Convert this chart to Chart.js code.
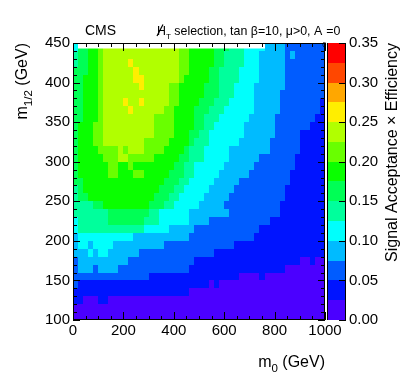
<!DOCTYPE html>
<html>
<head>
<meta charset="utf-8">
<script src="https://cdn.jsdelivr.net/npm/chart.js@4.4.1/dist/chart.umd.min.js"></script>
<style>
    html, body { margin: 0; padding: 0; background: #fff; }
</style>
</head>
<body>
<canvas id="effMap" width="407" height="391"></canvas>
<script>
// scan bin edges (GeV)
const m0Edges = [0, 20, 40, 60, 80, 100, 120, 140, 160, 180, 200, 220, 240, 260, 280, 300, 320, 340, 360, 380,
    400, 420, 440, 460, 480, 500, 520, 540, 560, 580, 600, 620, 640, 660, 680, 700, 720, 740, 760, 780,
    800, 820, 840, 860, 880, 900, 920, 940, 960, 980, 1000];
const m12Edges = [100, 110, 120, 130, 140, 150, 160, 170, 180, 190, 200, 210, 220, 230, 240, 250, 260, 270,
    280, 290, 300, 310, 320, 330, 340, 350, 360, 370, 380, 390, 400, 410, 420, 430, 440, 450];

// acceptance x efficiency, as contour bin number (width 0.025, 'a' = 10)
// one string per m1/2 row, from 440-450 GeV (top) down to 100-110 GeV; one char per m0 bin
const effBin = 0.025;
const effRows = [
    "4 66 77 8 999999999999999 88 77777 666 555 4444 3333 22222222",
    "5 66 77 8 999999999999999 88 77777 66 5555 444 33333 2 3 222222",
    "5 66 77 8 99999a999999999 88 77777 66 5555 444 33333 22222222",
    "6 66 77 8 999999a99999999 88 7777 66 5555 4444 33333 22222222",
    "6 6 777 8 999999aa9999999 8 77777 66 5555 4444 33333 22222222",
    "6 6 777 8 9999999a99999 88 77777 666 555 4444 333333 22222222",
    "6 6 777 8 9999999999999 88 77777 666 555 4444 33333 222222222",
    "6 6 777 8 9999a99a99999 88 7777 666 555 44444 33333 22222222 1",
    "6 6 777 8 99999a999999 88 7777 666 555 444444 33333 22222222 1",
    "6 6 777 8 9999999999 8888 7777 66 555 444444 33333 22222222 11",
    "6 777 88 9999999999 8888 7777 66 55 444444 333333 2222222 111",
    "6 777 88 9999999999 8888 777 66 55 4444444 333333 22222 11111",
    "6 777 88 99999999 88888 7777 6 555 444444 333333 222222 11111",
    "6 7777 8888 9 8 999 8888 7777 6 555 44444 33333333 222222 11111",
    "6 77777 888 99 88888 77777 66 555 44444 333333 2222222 111111",
    "6 777777 88 77 8 77777777 66 55 444444 333333 22222222 111111",
    "6 777777 88 777 88 77777 666 55 44444 333333 22222222 1111111",
    "66 7777777777777777 666 55 44444 33333 2222222222 1111111",
    "5 6 777777777777777 666 55 44444 33333 2222222222 11111111",
    "5 66 7777777777777 666 55 44444 33333 22222222222 11111111",
    "5555 66 777777777 666 55 44444 33333 22222222222 111111111",
    "5555555 66666666 55 444444 33333333 2222222222 111111111",
    "4 555555 6666666 555 444444 3333 222222222222 11111111111",
    "4 5555555555555 44444 33333 2222222222222 1111111111111",
    "3 44444444444 33333333333 2222222222222 11111111111111",
    "3 44 3 4444 3333333333 22222222222222 111111111111111111",
    "333 4 3 44 333333 222222222222222 1111111111111111111111",
    "2 3333333333 2222222222222 111111111111111111111 00 1 00",
    "2 333 2 3333 22222222222222 1111111111111111111 00000000",
    "222222222222222 111111111111111111 0000 1 000000000000",
    "2 11111111111111111111111111 0 1 000000000000000000000",
    "11111111111111111111111 000000000000000000000000000",
    "11 000 11 0000000000000000000000000000000000000000000",
    "00000000000000000000000000000000000000000000000000",
    "00000000000000000000000000000000000000000000000000"
];

const xTickLabels = [0, 200, 400, 600, 800, 1000];
const yTickLabels = [100, 150, 200, 250, 300, 350, 400, 450];
const zTickLabels = [0, 0.05, 0.10, 0.15, 0.20, 0.25, 0.30, 0.35];

// ROOT "pretty" palette picked for 14 contours
const zPalette = ['#4b00ff', '#0014ff', '#005cff', '#00bbff', '#00fffc', '#00ff9c', '#00ff55',
    '#0aff00', '#69ff00', '#b1ff00', '#ffee00', '#ffa700', '#ff4700', '#ff0000'];

const FONT = "'Liberation Sans', Arial, Helvetica, sans-serif";

let cells = [];
effRows.forEach((row, i) => {
    const codes = row.replace(/\s/g, '');
    const yLo = m12Edges[effRows.length - 1 - i];
    const yHi = m12Edges[effRows.length - i];
    for (let j = 0; j < codes.length; j++) {
        cells.push({
            x: (m0Edges[j] + m0Edges[j + 1]) / 2, y: (yLo + yHi) / 2,
            x0: m0Edges[j], x1: m0Edges[j + 1], y0: yLo, y1: yHi,
            v: (parseInt(codes[j], 36) + 0.5) * effBin
        });
    }
});

function levelColor(v) {
    let k = Math.floor(v / effBin);
    return zPalette[Math.max(0, Math.min(zPalette.length - 1, k))];
}

// text with subscripts, drawn from the current origin
function drawRich(ctx, parts, size, align) {
    let width = 0;
    parts.forEach(p => {
        ctx.font = (p.sub ? size * p.sub : size) + 'px ' + FONT;
        width += ctx.measureText(p.t).width;
    });
    let cx = align === 'right' ? -width : 0;
    parts.forEach(p => {
        ctx.font = (p.sub ? size * p.sub : size) + 'px ' + FONT;
        ctx.fillText(p.t, cx, p.dy || 0);
        cx += ctx.measureText(p.t).width;
    });
}

const effMapPlugin = {
    id: 'effMap',
    beforeDatasetsDraw(chart) {
        const ctx = chart.ctx;
        const xs = chart.scales.x, ys = chart.scales.y;
        ctx.save();
        chart.data.datasets[0].data.forEach(c => {
            const px0 = Math.round(xs.getPixelForValue(c.x0));
            const px1 = Math.round(xs.getPixelForValue(c.x1));
            const py0 = Math.round(ys.getPixelForValue(c.y1));
            const py1 = Math.round(ys.getPixelForValue(c.y0));
            ctx.fillStyle = levelColor(c.v);
            ctx.fillRect(px0, py0, px1 - px0, py1 - py0);
        });
        ctx.restore();
    },
    afterDraw(chart) {
        const ctx = chart.ctx;
        const area = chart.chartArea;
        const xs = chart.scales.x, ys = chart.scales.y, zs = chart.scales.z;
        ctx.save();

        // white pave over the top of the frame
        ctx.fillStyle = '#fff';
        ctx.fillRect(78, area.top, 187, 5.5);

        // frame
        ctx.strokeStyle = '#000';
        ctx.lineWidth = 1;
        ctx.strokeRect(area.left + 0.5, area.top + 0.5, area.right - area.left - 1, area.bottom - area.top - 1);

        // ticks
        ctx.beginPath();
        for (let v = xs.min; v <= xs.max; v += 50) {
            const px = Math.round(xs.getPixelForValue(v)) + 0.5;
            const len = xTickLabels.includes(v) ? 8 : 4;
            ctx.moveTo(px, area.bottom); ctx.lineTo(px, area.bottom - len);
            ctx.moveTo(px, area.top); ctx.lineTo(px, area.top + len);
        }
        for (let v = ys.min; v <= ys.max; v += 10) {
            const py = Math.round(ys.getPixelForValue(v)) + 0.5;
            const len = yTickLabels.includes(v) ? 7 : 4;
            ctx.moveTo(area.left, py); ctx.lineTo(area.left + len, py);
            ctx.moveTo(area.right, py); ctx.lineTo(area.right - len, py);
        }
        ctx.stroke();

        // colour bar
        const cbL = area.right + 2, cbR = area.right + 21;
        zPalette.forEach((col, k) => {
            const top = Math.round(zs.getPixelForValue((k + 1) * effBin));
            const bot = Math.round(zs.getPixelForValue(k * effBin));
            ctx.fillStyle = col;
            ctx.fillRect(cbL, top, cbR - cbL, bot - top);
        });
        ctx.beginPath();
        ctx.moveTo(cbL + 0.5, area.top); ctx.lineTo(cbL + 0.5, area.bottom);
        ctx.moveTo(cbR - 0.5, area.top); ctx.lineTo(cbR - 0.5, area.bottom);
        zTickLabels.forEach(v => {
            const py = Math.round(zs.getPixelForValue(v)) + 0.5;
            ctx.moveTo(cbR, py); ctx.lineTo(cbR - 7, py);
        });
        ctx.stroke();

        ctx.fillStyle = '#000';
        ctx.textBaseline = 'alphabetic';

        // axis titles
        ctx.save();
        ctx.translate(area.right, 367);
        drawRich(ctx, [{t: 'm'}, {t: '0', sub: 0.72, dy: 5}, {t: ' (GeV)'}], 16, 'right');
        ctx.restore();

        ctx.save();
        ctx.translate(27, area.top);
        ctx.rotate(-Math.PI / 2);
        drawRich(ctx, [{t: 'm'}, {t: '1/2', sub: 0.72, dy: 5}, {t: ' (GeV)'}], 16, 'right');
        ctx.restore();

        ctx.save();
        ctx.translate(397, area.top);
        ctx.rotate(-Math.PI / 2);
        drawRich(ctx, [{t: 'Signal Acceptance \u00d7 Efficiency'}], 16, 'right');
        ctx.restore();

        // header
        ctx.font = '14px ' + FONT;
        ctx.fillText('CMS', 85, 34.5);
        ctx.save();
        ctx.translate(157, 34.5);
        drawRich(ctx, [{t: 'H'}, {t: 'T', sub: 0.65, dy: 4}, {t: ' selection, tan \u03b2=10, \u03bc>0, A'},
            {t: '0', sub: 0.6, dy: 12}, {t: '=0'}], 12.4, 'left');
        ctx.beginPath();
        ctx.lineWidth = 1.2;
        ctx.moveTo(0, 1.5); ctx.lineTo(6, -10);
        ctx.stroke();
        ctx.restore();

        ctx.restore();
    }
};

Chart.defaults.font.family = FONT;
Chart.defaults.color = '#000';

const chart = new Chart(document.getElementById('effMap').getContext('2d'), {
    type: 'scatter',
    data: {
        datasets: [{ label: 'acceptance x efficiency', data: cells, pointRadius: 0, pointHoverRadius: 0 }]
    },
    options: {
        responsive: false,
        animation: false,
        events: [],
        layout: { padding: { top: 43, left: 0, right: 0, bottom: 0 } },
        plugins: { legend: { display: false }, tooltip: { enabled: false } },
        scales: {
            x: {
                type: 'linear', position: 'bottom', min: 0, max: 1000,
                afterFit: s => { s.height = 71; },
                afterBuildTicks: s => { s.ticks = xTickLabels.map(v => ({ value: v })); },
                grid: { display: false, drawTicks: false },
                border: { display: false },
                ticks: { font: { size: 15 }, color: '#000', padding: 2, maxRotation: 0, autoSkip: false,
                    callback: v => String(v) }
            },
            y: {
                type: 'linear', position: 'left', min: 100, max: 450,
                afterFit: s => { s.width = 73; },
                afterBuildTicks: s => { s.ticks = yTickLabels.map(v => ({ value: v })); },
                grid: { display: false, drawTicks: false },
                border: { display: false },
                ticks: { font: { size: 15 }, color: '#000', padding: 3, autoSkip: false,
                    callback: v => String(v) }
            },
            z: {
                type: 'linear', position: 'right', min: 0, max: 0.35,
                afterFit: s => { s.width = 82; },
                afterBuildTicks: s => { s.ticks = zTickLabels.map(v => ({ value: v })); },
                grid: { display: false, drawTicks: false },
                border: { display: false },
                ticks: { font: { size: 15 }, color: '#000', padding: 24, autoSkip: false,
                    callback: v => v.toFixed(2) }
            }
        }
    },
    plugins: [effMapPlugin]
});
</script>
</body>
</html>
